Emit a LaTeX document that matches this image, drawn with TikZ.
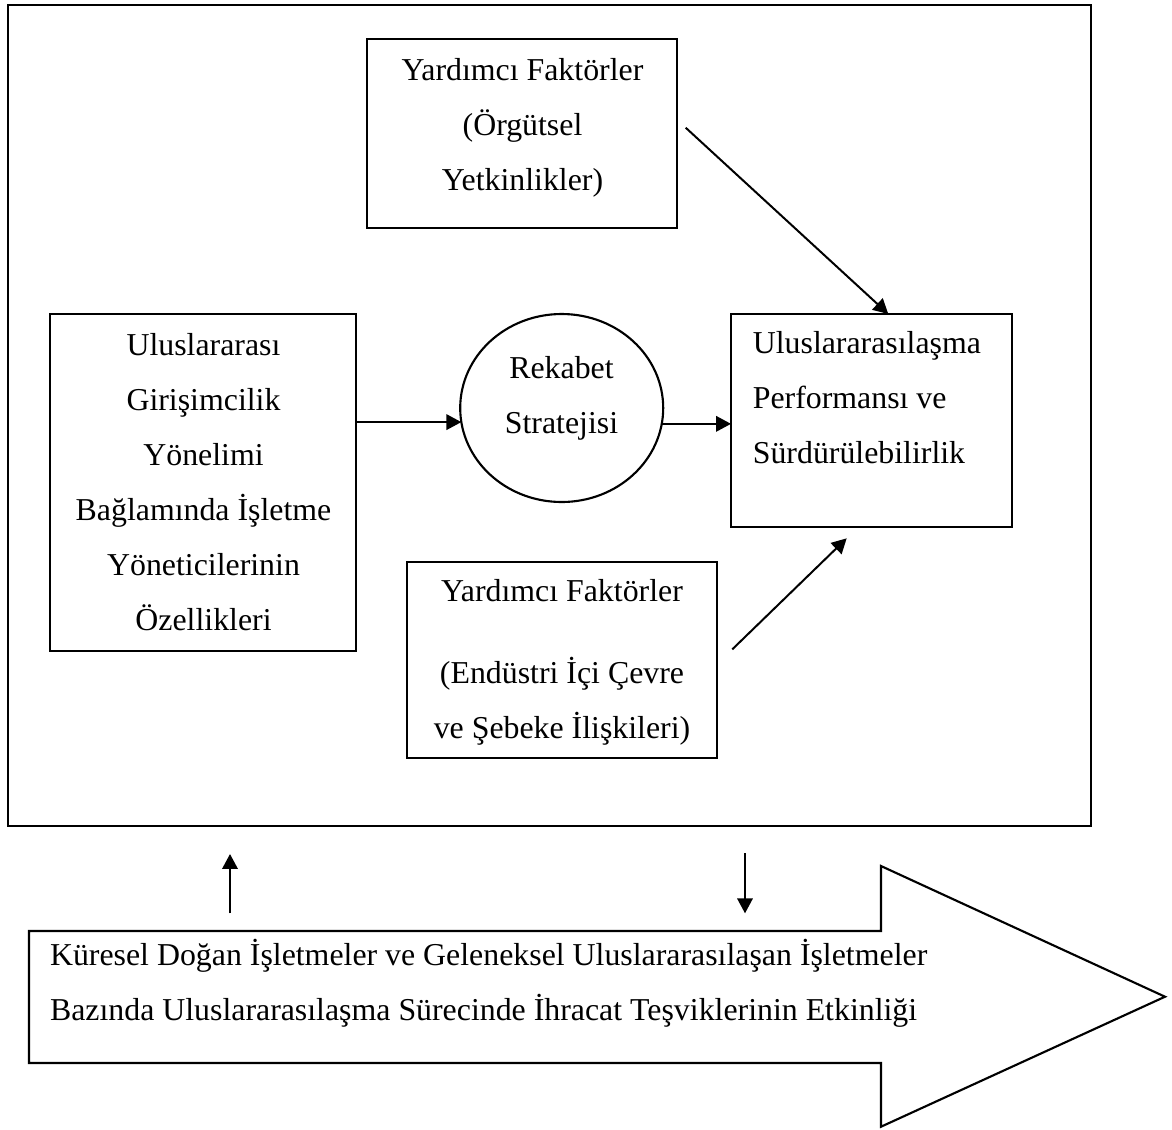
\documentclass[tikz,border=0pt]{standalone}
\usepackage{fontspec}
\setmainfont{Liberation Serif}
\usetikzlibrary{arrows.meta,shapes.geometric}
\def\pxu{0.3768}
\tikzset{
  box/.style={draw, line width=0.8pt, rectangle, inner sep=0pt, outer sep=0pt},
  oval/.style={draw, line width=0.8pt, ellipse, inner sep=0pt, outer sep=0pt},
  txt/.style={anchor=base, inner sep=0pt},
  txtl/.style={anchor=base west, inner sep=0pt},
  arr/.style={line width=0.75pt, -{Triangle[length=5.6pt,width=5.8pt]}},
}
\begin{document}
\begin{tikzpicture}[x=0.3768pt,y=-0.3768pt,font=\fontsize{12pt}{20.7pt}\selectfont]
\useasboundingbox (0,0) rectangle (1172,1129);
% outer frame
\node[box, minimum width={1082.7*\pxu pt}, minimum height={821.3*\pxu pt}] (outer) at (549.35,415.65) {};
% boxes
\node[box, minimum width={310*\pxu pt}, minimum height={188.4*\pxu pt}] (tb) at (522,133.5) {};
\node[box, minimum width={305.7*\pxu pt}, minimum height={336.7*\pxu pt}] (lb) at (202.85,482.35) {};
\node[oval, minimum width={203*\pxu pt}, minimum height={188*\pxu pt}] (rs) at (561.7,408) {};
\node[box, minimum width={281.3*\pxu pt}, minimum height={212.7*\pxu pt}] (rb) at (871.65,420.35) {};
\node[box, minimum width={310*\pxu pt}, minimum height={196*\pxu pt}] (bb) at (561.7,659.7) {};
% texts
\node[txt] (tb1) at (522.5,80) {Yardımcı Faktörler};
\node[txt] (tb2) at (522.5,135) {(Örgütsel};
\node[txt] (tb3) at (522.5,190) {Yetkinlikler)};
\node[txt] (lb1) at (203.5,355) {Uluslararası};
\node[txt] (lb2) at (203.5,410) {Girişimcilik};
\node[txt] (lb3) at (203.5,465) {Yönelimi};
\node[txt] (lb4) at (203.5,520) {Bağlamında İşletme};
\node[txt] (lb5) at (203.5,575) {Yöneticilerinin};
\node[txt] (lb6) at (203.5,630) {Özellikleri};
\node[txt] (rs1) at (561.5,378.3) {Rekabet};
\node[txt] (rs2) at (561.5,433.3) {Stratejisi};
\node[txtl] (rb1) at (752.3,353.5) {Uluslararasılaşma};
\node[txtl] (rb2) at (752.3,408.5) {Performansı ve};
\node[txtl] (rb3) at (752.3,463.5) {Sürdürülebilirlik};
\node[txt] (bb1) at (562,601.7) {Yardımcı Faktörler};
\node[txt] (bb2) at (562,683.3) {(Endüstri İçi Çevre};
\node[txt] (bb3) at (562,738.3) {ve Şebeke İlişkileri)};
% connectors
\draw[arr] (lb.east |- rs.188.5) -- (rs.188.5);
\draw[arr] (rs.351.5) -- (rb.west |- rs.351.5);
\coordinate (d1s) at (685.7,127.7);
\coordinate (d1e) at (888.3,313.3);
\draw[arr] (d1s) -- (d1e |- rb.north);
\coordinate (d2s) at (732.3,649.3);
\coordinate (d2e) at (846.7,538.3);
\draw[arr] (d2s) -- (d2e);
% big arrow
\draw[line width=0.8pt] (29,931) coordinate (ba) -- (881,931) -- (881,866) -- (1165,996.7) coordinate (tip)
  -- (881,1126.7) -- (881,1063) -- (29,1063) -- cycle;
\node[txtl] (ba1) at (49.5,965) {Küresel Doğan İşletmeler ve Geleneksel Uluslararasılaşan İşletmeler};
\node[txtl] (ba2) at (49.5,1020) {Bazında Uluslararasılaşma Sürecinde İhracat Teşviklerinin Etkinliği};
% vertical arrows
\coordinate (u1s) at (230,913.3);
\coordinate (u1e) at (230,854);
\draw[arr] (u1s) -- (u1e);
\coordinate (v1s) at (745,853.3);
\coordinate (v1e) at (745,913.3);
\draw[arr] (v1s) -- (v1e);
\end{tikzpicture}
\end{document}
